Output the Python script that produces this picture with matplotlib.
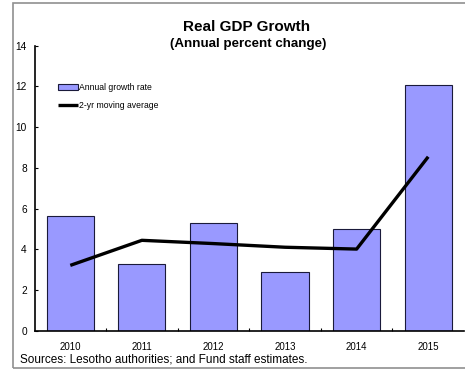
import matplotlib
matplotlib.use("Agg")
import matplotlib.pyplot as plt
from matplotlib.patches import Rectangle
import numpy as np

plt.rcParams['font.family'] = ['Liberation Sans', 'DejaVu Sans']

years = ["2010", "2011", "2012", "2013", "2014", "2015"]
growth = [5.63, 3.27, 5.30, 2.91, 5.02, 12.07]
moving_avg = [3.22, 4.45, 4.29, 4.11, 4.02, 8.55]
y_ticks = [0, 2, 4, 6, 8, 10, 12, 14]

W, H = 465, 369
fig = plt.figure(figsize=(W / 100, H / 100), dpi=100)

# outer frame
fig.patches.append(Rectangle((12.5 / W, 1 - 368 / H), 470 / W, (368 - 3) / H,
                             transform=fig.transFigure, fill=False,
                             edgecolor='#909090', linewidth=1.2))

ax = fig.add_axes([34.5 / W, 1 - 331 / H, (464 - 34.5) / W, (331 - 45.7) / H])
x = np.arange(len(years))
bars = ax.bar(x, growth, width=0.66, color='#9999FF', edgecolor='#1a1a3a',
              linewidth=0.8, label='Annual growth rate', zorder=2)
line, = ax.plot(x, moving_avg, color='black', linewidth=2.4, solid_capstyle='butt',
                label='2-yr moving average', zorder=3)

ax.set_xlim(-0.5, len(years) - 0.5)
ax.set_ylim(0, 14)
ax.set_yticks(y_ticks)
ax.set_yticklabels([str(v) for v in y_ticks], fontsize=7.3)
ax.tick_params(axis='y', direction='in', length=2, width=0.8, pad=5.5)

ax.set_xticks(np.arange(len(years) - 1) + 0.5)
ax.set_xticklabels([])
ax.tick_params(axis='x', direction='in', length=2, width=0.8)
for i, yr in enumerate(years):
    ax.text(i, -0.55, yr, ha='center', va='top', fontsize=7)

for side in ('top', 'right'):
    ax.spines[side].set_visible(False)
for side in ('left', 'bottom'):
    ax.spines[side].set_linewidth(1.2)

ax.legend([bars, line], ['Annual growth rate', '2-yr moving average'],
          loc='upper left', bbox_to_anchor=(58 / W, 1 - 83 / H),
          bbox_transform=fig.transFigure, frameon=False, fontsize=6.2,
          handlelength=2.3, handletextpad=0.1, labelspacing=1.0,
          borderpad=0, borderaxespad=0)

fig.text(247 / W, 1 - 27 / H, "Real GDP Growth", ha='center', va='center',
         fontsize=11, fontweight='bold')
fig.text(248 / W, 1 - 44 / H, "(Annual percent change)", ha='center', va='center',
         fontsize=9.6, fontweight='bold')
fig.text(20 / W, 1 - 359 / H, "Sources: Lesotho authorities; and Fund staff estimates.",
         ha='left', va='center', fontsize=8.5)

fig.savefig("out.png", dpi=100)
